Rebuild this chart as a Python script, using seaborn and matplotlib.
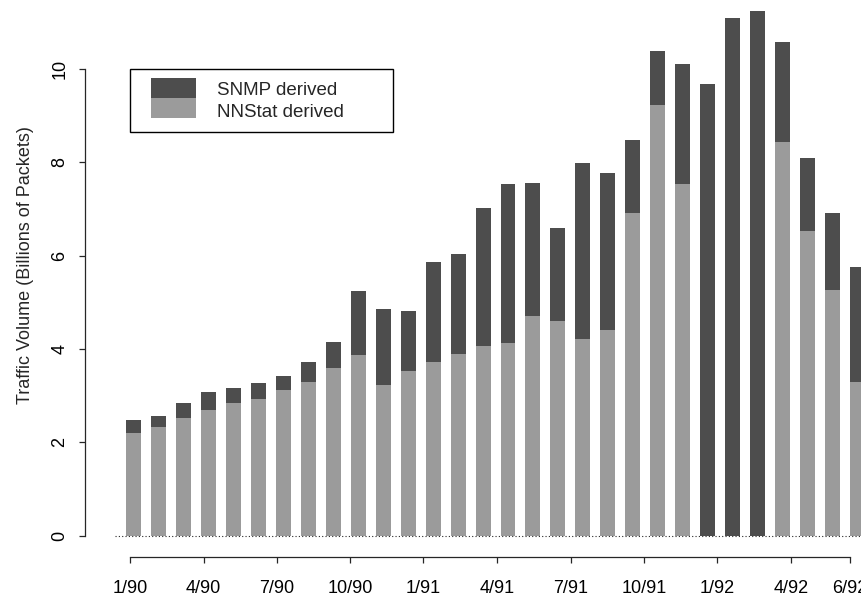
import matplotlib
matplotlib.use("Agg")
import matplotlib.pyplot as plt
from matplotlib.patches import Rectangle
import numpy as np
import pandas as pd
import seaborn as sns

# Monthly NSFNET traffic, Jan 1990 .. Jun 1992 (billions of packets)
months = [f"{m}/{y}" for y in (90, 91, 92) for m in range(1, 13)][:30]
nnstat = [2.20, 2.32, 2.52, 2.69, 2.84, 2.93, 3.12, 3.29, 3.59, 3.87,
          3.23, 3.53, 3.72, 3.90, 4.07, 4.13, 4.71, 4.60, 4.22, 4.41,
          6.91, 9.23, 7.54, 0.00, 0.00, 0.00, 8.44, 6.53, 5.26, 3.29]
snmp = [0.28, 0.25, 0.32, 0.39, 0.33, 0.34, 0.30, 0.43, 0.56, 1.38,
        1.63, 1.29, 2.14, 2.14, 2.95, 3.41, 2.85, 1.99, 3.77, 3.37,
        1.57, 1.16, 2.57, 9.68, 11.10, 11.25, 2.14, 1.57, 1.65, 2.47]
tick_labels = ["1/90", "4/90", "7/90", "10/90", "1/91", "4/91",
               "7/91", "10/91", "1/92", "4/92", "6/92"]
tick_pos = [-0.13, 2.81, 5.74, 8.67, 11.61, 14.56,
            17.51, 20.45, 23.38, 26.34, 28.69]
y_ticks = [0, 2, 4, 6, 8, 10]

df = pd.DataFrame({"month": months, "nnstat": nnstat, "snmp": snmp})
df["total"] = df["nnstat"] + df["snmp"]

DARK = "#4d4d4d"
LIGHT = "#9b9b9b"
INK = "#262626"

sns.set_style("ticks")
plt.rcParams["font.family"] = ["Liberation Sans", "DejaVu Sans"]

W, H = 862, 596
fig = plt.figure(figsize=(W / 100, H / 100), dpi=100)
ax = fig.add_axes([85 / W, (H - 557) / H, (880 - 85) / W, 557 / H])

# stacked bars: full height in dark, NNStat share painted over it
sns.barplot(data=df, x="month", y="total", order=months, color=DARK,
            saturation=1, width=0.6, linewidth=0, ax=ax)
sns.barplot(data=df, x="month", y="nnstat", order=months, color=LIGHT,
            saturation=1, width=0.6, linewidth=0, ax=ax)

ax.set_xlim(-1.943, 29.90)
ax.set_ylim(-0.4566, 11.483)

# dotted zero line
ax.hlines(0, -0.741, 29.9, colors=INK, linestyles=(0, (1, 2)),
          linewidth=0.8, zorder=5)

for s in ("top", "right"):
    ax.spines[s].set_visible(False)
for s in ("left", "bottom"):
    ax.spines[s].set_color(INK)
    ax.spines[s].set_linewidth(0.9)
ax.spines["left"].set_bounds(0, 10)
ax.spines["bottom"].set_bounds(tick_pos[0], tick_pos[-1])

ax.set_yticks(y_ticks)
ax.set_yticklabels([str(v) for v in y_ticks])
ax.set_xticks(tick_pos)
ax.set_xticklabels(tick_labels)
ax.tick_params(axis="both", which="major", direction="out", length=4.3,
               width=0.9, color=INK, labelsize=13, labelcolor="black",
               bottom=True, left=True, top=False, right=False)
ax.tick_params(axis="x", pad=12.2)
ax.tick_params(axis="y", pad=7.7, labelrotation=90)
for lab in ax.get_yticklabels():
    lab.set_va("center")

ax.set_xlabel("")
ax.set_ylabel("Traffic Volume (Billions of Packets)", fontsize=13)
ax.yaxis.set_label_coords(-0.0642, 0.524)


# legend box in pixel coordinates
def fx(px):
    return px / W


def fy(py):
    return 1 - py / H


fig.patches.append(Rectangle((fx(130), fy(131.7)), fx(392.7) - fx(130),
                             fy(69.3) - fy(131.7), transform=fig.transFigure,
                             facecolor="white", edgecolor="black",
                             linewidth=1.0, zorder=10))
fig.patches.append(Rectangle((fx(151), fy(98)), fx(196) - fx(151),
                             fy(78) - fy(98), transform=fig.transFigure,
                             facecolor=DARK, edgecolor="none", zorder=11))
fig.patches.append(Rectangle((fx(151), fy(118)), fx(196) - fx(151),
                             fy(98) - fy(118), transform=fig.transFigure,
                             facecolor=LIGHT, edgecolor="none", zorder=11))
fig.text(fx(217), fy(95), "SNMP derived", fontsize=13.5, va="baseline",
         ha="left", zorder=12)
fig.text(fx(217), fy(116.7), "NNStat derived", fontsize=13.5, va="baseline",
         ha="left", zorder=12)

fig.savefig("out.png", dpi=100)
